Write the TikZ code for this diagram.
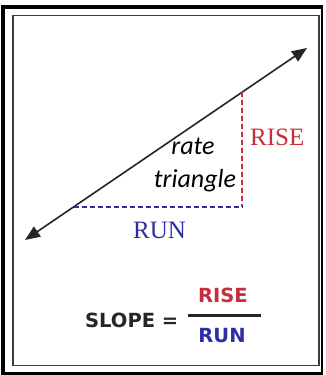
\documentclass[tikz,border=0pt]{standalone}
\usepackage{fontspec}
\usepackage{tikz}
\usetikzlibrary{positioning, arrows.meta, calc}
\newfontfamily\labelserif{Liberation Serif}
\newfontfamily\labelcal{Carlito}
\newfontfamily\labelsans{DejaVu Sans}
\definecolor{risered}{RGB}{200,45,60}
\definecolor{runblue}{RGB}{45,45,165}
\definecolor{framegray}{RGB}{60,60,60}
\tikzset{
    riseserif/.style={text=risered, font=\labelserif\fontsize{25}{30}\selectfont, inner sep=0pt},
    runserif/.style={text=runblue, font=\labelserif\fontsize{25}{30}\selectfont, inner sep=0pt},
    tritext/.style={text=black, font=\labelcal\itshape\fontsize{26}{30}\selectfont, inner sep=0pt},
    slopetext/.style={text=black!85, font=\labelsans\bfseries\fontsize{19.5}{24}\selectfont, inner sep=0pt},
    fracrise/.style={text=risered, font=\labelsans\bfseries\fontsize{19.5}{24}\selectfont, inner sep=0pt},
    fracrun/.style={text=runblue, font=\labelsans\bfseries\fontsize{19.5}{24}\selectfont, inner sep=0pt},
    risedash/.style={draw=risered, line width=1.1pt, dash pattern=on 5pt off 3pt},
    rundash/.style={draw=runblue, line width=1.1pt, dash pattern=on 5pt off 3pt},
}

\begin{document}
\begin{tikzpicture}[
    x=1pt, y=-1pt,
    >={Triangle[length=15pt,width=12pt]},
]
\useasboundingbox (0,0) rectangle (325,375);
\fill[white] (0,0) rectangle (325,375);
\draw[line width=4pt] (322,7) -- (3,7) -- (3,373.5) -- (322,373.5);
\draw[line width=1.6pt] (322,5) -- (322,375);
\draw[framegray, line width=1.3pt] (13,15.5) rectangle (319,365.5);

\coordinate (lo) at (25,240);
\coordinate (hi) at (307,48);
\coordinate (top) at (242,92.3);
\coordinate (corner) at (242,207);
\coordinate (foot) at (73.5,207);

\draw[<->, line width=1.6pt, black!85] (lo) -- (hi);
\draw[risedash] (top) -- (corner);
\draw[rundash] (foot) -- (corner);

\node[riseserif, anchor=base west] (riselbl) at (250,145) {RISE};
\node[runserif, anchor=base] (runlbl) at (159.5,238) {RUN};
\node[tritext, anchor=base] (rate) at (193,154) {rate};
\node[tritext, anchor=base] (tri) at (195,187.3) {triangle};

\node[slopetext, anchor=base west] (slope) at (85,327.5) {SLOPE =};
\coordinate (barl) at (188,315);
\coordinate (barr) at (261,315);
\draw[line width=3pt, black!85] (barl) -- (barr);
\node[fracrise, anchor=base] (num) at (223,302) {RISE};
\node[fracrun, anchor=base] (den) at (222,342) {RUN};
\end{tikzpicture}
\end{document}
